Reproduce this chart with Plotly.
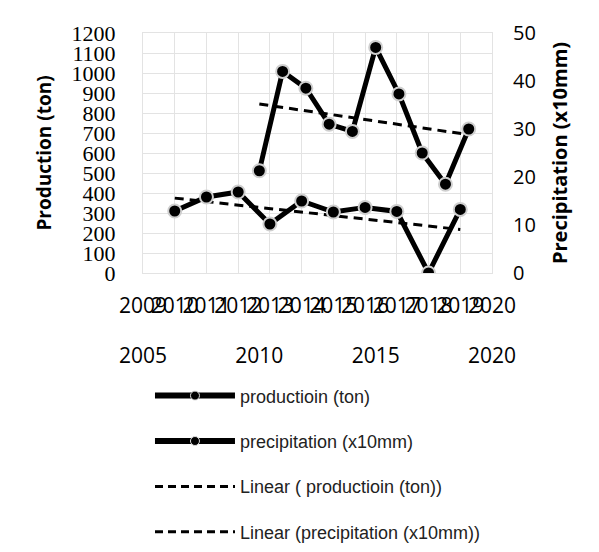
import numpy as np
import plotly.graph_objects as go

# Annual series, 2010-2019
years = [2010, 2011, 2012, 2013, 2014, 2015, 2016, 2017, 2018, 2019]
production_ton = [310, 380, 405, 245, 360, 305, 328, 308, 0, 318]
precipitation_x10mm = [21.3, 42.0, 38.5, 31.0, 29.5, 47.0, 37.3, 25.0, 18.5, 30.0]

# Axis tick values
prod_ticks = list(range(0, 1201, 100))
precip_ticks = [0, 10, 20, 30, 40, 50]
cat_axis_ticks = list(range(2009, 2021))
year_axis_ticks = [2005, 2010, 2015, 2020]

legend_names = ["productioin (ton)", "precipitation (x10mm)",
                "Linear ( productioin (ton))", "Linear (precipitation (x10mm))"]

# Linear trendlines (least squares)
x_arr = np.array(years, dtype=float)
p_coef = np.polyfit(x_arr, production_ton, 1)
r_coef = np.polyfit(x_arr, precipitation_x10mm, 1)
prod_trend = np.polyval(p_coef, x_arr)
precip_trend = np.polyval(r_coef, x_arr)

marker_style = dict(size=13, color="black", line=dict(color="#cfcfcf", width=2))
trend_line = dict(color="black", width=3, dash="9px,6px")
series_line = dict(color="black", width=5)

fig = go.Figure()
# trendlines first so the series lines sit on top
fig.add_trace(go.Scatter(x=years, y=prod_trend, mode="lines", line=trend_line,
                         xaxis="x", yaxis="y", showlegend=False))
fig.add_trace(go.Scatter(x=years, y=precip_trend, mode="lines", line=trend_line,
                         xaxis="x2", yaxis="y2", showlegend=False))
fig.add_trace(go.Scatter(x=years, y=production_ton, mode="lines+markers",
                         line=series_line, marker=marker_style,
                         xaxis="x", yaxis="y", showlegend=False))
fig.add_trace(go.Scatter(x=years, y=precipitation_x10mm, mode="lines+markers",
                         line=series_line, marker=marker_style,
                         xaxis="x2", yaxis="y2", showlegend=False))

# legend keys (no data points, smaller marker dot in the key)
legend_marker = dict(size=9, color="black", line=dict(color="#dddddd", width=1))
for i, nm in enumerate(legend_names):
    if i < 2:
        fig.add_trace(go.Scatter(x=[None], y=[None], name=nm, mode="lines+markers",
                                 line=dict(color="black", width=6),
                                 marker=legend_marker, legendgroup=f"g{i}",
                                 legendrank=i + 1))
    else:
        fig.add_trace(go.Scatter(x=[None], y=[None], name=nm, mode="lines",
                                 line=dict(color="black", width=3, dash="8px,5px"),
                                 legendgroup=f"g{i}", legendrank=i + 1))

grid = "#e3e3e3"
fig.update_layout(
    width=599, height=552,
    margin=dict(l=143, r=107, t=33, b=279, autoexpand=False),
    paper_bgcolor="white", plot_bgcolor="white",
    font=dict(family="Open Sans, sans-serif", color="black"),
    showlegend=True,
    legend=dict(
        x=0.02, y=-0.435, xanchor="left", yanchor="top",
        traceorder="grouped", tracegroupgap=19, itemwidth=80,
        font=dict(family="Liberation Sans, sans-serif", size=18, color="#222"),
        bgcolor="rgba(0,0,0,0)"),
    xaxis=dict(
        range=[2009, 2020], tickmode="array", tickvals=cat_axis_ticks,
        ticktext=[str(t) for t in cat_axis_ticks], tickangle=0,
        showgrid=True, gridcolor=grid, gridwidth=1,
        showline=True, linecolor=grid, mirror=True, zeroline=False,
        ticks="", ticklabelstandoff=14,
        tickfont=dict(family="Open Sans, sans-serif", size=21)),
    xaxis2=dict(
        range=[2005, 2020], overlaying="x", anchor="y", side="bottom",
        tickmode="array", tickvals=year_axis_ticks, tickangle=0,
        showgrid=False, zeroline=False, showline=False, ticks="",
        ticklabelstandoff=68,
        tickfont=dict(family="Open Sans, sans-serif", size=21)),
    yaxis=dict(
        range=[0, 1200], tickmode="array", tickvals=prod_ticks,
        showgrid=True, gridcolor=grid, gridwidth=1,
        showline=True, linecolor=grid, mirror=True, zeroline=False,
        ticks="", ticklabelstandoff=22,
        tickfont=dict(family="Liberation Serif, serif", size=22),
        title=dict(text="<b>Production (ton)</b>", standoff=14,
                   font=dict(family="Open Sans, sans-serif", size=19))),
    yaxis2=dict(
        range=[0, 50], tickmode="array", tickvals=precip_ticks,
        overlaying="y", side="right", anchor="x",
        showgrid=False, zeroline=False, showline=False, ticks="",
        ticklabelstandoff=20,
        tickfont=dict(family="Open Sans, sans-serif", size=20),
        title=dict(text="<b>Precipitation (x10mm)</b>", standoff=18,
                   font=dict(family="Open Sans, sans-serif", size=20))),
)

fig.write_html("out.html")
